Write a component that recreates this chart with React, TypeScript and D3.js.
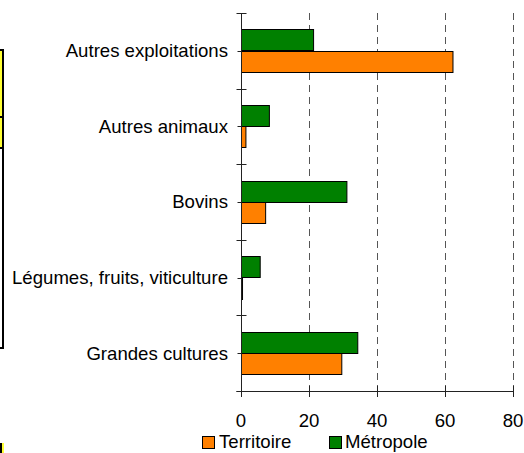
import React from "react";
import * as d3 from "d3";

const categories = [
  "Autres exploitations",
  "Autres animaux",
  "Bovins",
  "Légumes, fruits, viticulture",
  "Grandes cultures",
];
const seriesNames = ["Métropole", "Territoire"];
const metropole = [21.2, 8.2, 31.0, 5.5, 34.2];
const territoire = [62.2, 1.3, 7.1, 0.3, 29.5];
const xTicks = [0, 20, 40, 60, 80];
const colors = { Territoire: "#FF8000", Métropole: "#008000" };

const W = 524;
const H = 453;

export default function App() {
  const x = d3.scaleLinear().domain([0, 80]).range([241, 513]);
  const y = d3.scaleBand().domain(categories).range([13, 391]).padding(0);
  const inner = d3
    .scaleBand()
    .domain(seriesNames)
    .range([0, y.bandwidth()])
    .paddingInner(0)
    .paddingOuter(0.76);
  const values: Record<string, number[]> = {
    Métropole: metropole,
    Territoire: territoire,
  };
  const font = "'Liberation Sans', Arial, sans-serif";
  const axisColor = "#222";
  const x0 = Math.round(x(0)) + 0.5;
  const yBottom = 391.5;
  const boundaries = [...categories.map((c) => y(c)!), 391];
  const fs = 18.6;

  return (
    <svg
      width={W}
      height={H}
      style={{ position: "absolute", left: 0, top: 0, background: "#fff" }}
      fontFamily={font}
    >
      {/* left-edge fragments */}
      <rect x={0} y={50} width={2} height={98} fill="#ffff33" />
      <rect x={2} y={49} width={2} height={300} fill="#000" />
      <rect x={0} y={49} width={4} height={2} fill="#000" />
      <rect x={0} y={116} width={4} height={2} fill="#000" />
      <rect x={0} y={147} width={4} height={2} fill="#000" />
      <rect x={0} y={347} width={4} height={2} fill="#000" />
      <rect x={0} y={443} width={2} height={10} fill="#000" />
      <rect x={2} y={443} width={2} height={10} fill="#ffff33" />

      {/* gridlines */}
      {xTicks
        .filter((t) => t > 0)
        .map((t) => (
          <line
            key={"g" + t}
            x1={Math.round(x(t)) + 0.5}
            x2={Math.round(x(t)) + 0.5}
            y1={13}
            y2={391}
            stroke="#555"
            strokeDasharray="7,5"
          />
        ))}

      {/* bars */}
      {categories.map((c, i) =>
        seriesNames.map((s) => {
          const v = values[s][i];
          const by = y(c)! + inner(s)!;
          return (
            <rect
              key={c + s}
              x={x0}
              y={Math.round(by) + 0.5}
              width={Math.max(0.1, x(v) - x(0))}
              height={Math.round(inner.bandwidth())}
              fill={(colors as any)[s]}
              stroke="#000"
              strokeWidth={1}
            />
          );
        })
      )}

      {/* y axis */}
      <line x1={x0} x2={x0} y1={13} y2={397} stroke={axisColor} />
      {boundaries.map((b, i) => (
        <line
          key={"yb" + i}
          x1={x0 - 5}
          x2={x0 + 5}
          y1={Math.round(b) + 0.5}
          y2={Math.round(b) + 0.5}
          stroke={axisColor}
        />
      ))}
      {categories.map((c) => {
        const cy = y(c)! + y.bandwidth() / 2;
        return (
          <g key={"yl" + c}>
            <line
              x1={x0 - 4}
              x2={x0}
              y1={Math.round(cy) + 0.5}
              y2={Math.round(cy) + 0.5}
              stroke={axisColor}
            />
            <text
              x={228}
              y={cy}
              dy="0.34em"
              textAnchor="end"
              fontSize={fs}
              fill="#000"
            >
              {c}
            </text>
          </g>
        );
      })}

      {/* x axis */}
      <line x1={x0 - 5} x2={x(80) + 0.5} y1={yBottom} y2={yBottom} stroke={axisColor} />
      {xTicks.map((t) => (
        <g key={"xt" + t}>
          <line
            x1={Math.round(x(t)) + 0.5}
            x2={Math.round(x(t)) + 0.5}
            y1={386}
            y2={397}
            stroke={axisColor}
          />
          <text x={x(t)} y={427} textAnchor="middle" fontSize={fs} fill="#000">
            {t}
          </text>
        </g>
      ))}

      {/* legend */}
      <rect x={202.5} y={436.5} width={12} height={12} fill={colors.Territoire} stroke="#000" />
      <text x={219} y={448} fontSize={fs} fill="#000">
        Territoire
      </text>
      <rect x={329.5} y={436.5} width={12} height={12} fill={colors.Métropole} stroke="#000" />
      <text x={345} y={448} fontSize={fs} fill="#000">
        Métropole
      </text>
    </svg>
  );
}
